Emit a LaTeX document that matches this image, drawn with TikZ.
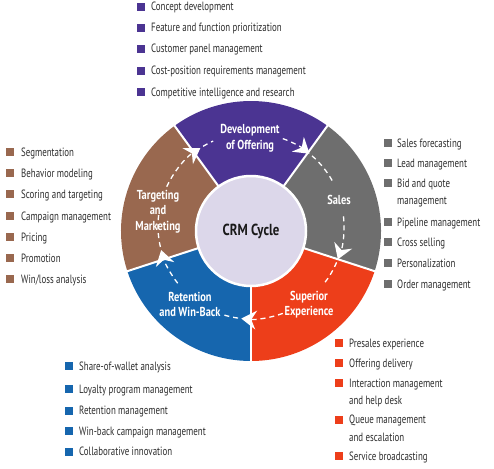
\documentclass[tikz,border=0pt]{standalone}
\usepackage{fontspec}
\setmainfont{PT Sans}
\newfontfamily\listfont[FakeStretch=0.74]{PT Sans}
\newfontfamily\labfont[FakeStretch=0.8]{PT Sans}
\usetikzlibrary{arrows.meta}
\definecolor{cpur}{RGB}{75,52,146}
\definecolor{cgray}{RGB}{110,110,110}
\definecolor{cred}{RGB}{237,62,26}
\definecolor{cblue}{RGB}{22,102,174}
\definecolor{cbrown}{RGB}{153,104,79}
\definecolor{clav}{RGB}{220,215,234}
\definecolor{ctxt}{RGB}{45,45,45}
\newcommand\twol[2]{\begin{tabular}[t]{@{}l@{}}#1\\[3pt]#2\end{tabular}}
\tikzset{
  item/.style={font=\listfont\fontsize{12}{14.5}\selectfont, text=ctxt, anchor=base west, inner sep=0},
  sq/.style={minimum size=8pt, inner sep=0, draw=none},
  seglab/.style={font=\labfont\bfseries\fontsize{13}{15.5}\selectfont, text=white, align=center, inner sep=0},
  flow/.style={white, line width=1.3pt, dash pattern=on 5pt off 4pt},
  tipd/.style={flow, -{Stealth[length=15pt,width=19pt,inset=5pt]}}
}
\begin{document}
\begin{tikzpicture}[x=1pt,y=1pt]
\useasboundingbox (0,0) rectangle (494,-468);
\coordinate (cen) at (251,-231);
\coordinate (dc) at (251,-226);
% ring segments
\fill[cpur] (cen) -- ++(54:130pt) arc[start angle=54,end angle=126,radius=130pt] -- cycle;
\fill[cgray] (cen) -- ++(-18:130pt) arc[start angle=-18,end angle=54,radius=130pt] -- cycle;
\fill[cred] (cen) -- ++(-90:130pt) arc[start angle=-90,end angle=-18,radius=130pt] -- cycle;
\fill[cblue] (cen) -- ++(198:130pt) arc[start angle=198,end angle=270,radius=130pt] -- cycle;
\fill[cbrown] (cen) -- ++(126:130pt) arc[start angle=126,end angle=198,radius=130pt] -- cycle;
\foreach \a in {-90,-18,54,126,198} \draw[white,line width=2pt] (cen) -- ++(\a:131pt);
\node[circle, minimum size=110pt, fill=clav, draw=white, line width=2.5pt, inner sep=0,
  font=\labfont\bfseries\fontsize{16}{19}\selectfont, text={black!90}] (crm) at (cen) {CRM Cycle};
% segment labels
\node[seglab] (ldev) at (250,-138.5) {Development\\of Offering};
\node[seglab] (lsal) at (339,-200) {Sales};
\node[seglab] (lsup) at (309,-304.5) {Superior\\Experience};
\node[seglab] (lret) at (190,-304.5) {Retention\\and Win-Back};
\node[seglab] (ltar) at (158,-211.5) {Targeting\\and\\Marketing};
% dashed cycle arrows
\draw[tipd] ([shift={(70:93pt)}]dc) arc[start angle=70,end angle=51,radius=93pt];
\draw[flow] ([shift={(49:93pt)}]dc) arc[start angle=49,end angle=28,radius=93pt];
\draw[tipd] ([shift={(6:93pt)}]dc) arc[start angle=6,end angle=-21,radius=93pt];
\draw[flow] ([shift={(-23:93pt)}]dc) arc[start angle=-23,end angle=-38,radius=93pt];
\draw[tipd] ([shift={(-70:93pt)}]dc) arc[start angle=-70,end angle=-96,radius=93pt];
\draw[flow] ([shift={(-98:93pt)}]dc) arc[start angle=-98,end angle=-108,radius=93pt];
\draw[tipd] ([shift={(218:93pt)}]dc) arc[start angle=218,end angle=195,radius=93pt];
\draw[flow] ([shift={(193:93pt)}]dc) arc[start angle=193,end angle=173,radius=93pt];
\draw[tipd] ([shift={(155:93pt)}]dc) arc[start angle=155,end angle=123,radius=93pt];
\draw[flow] ([shift={(121:93pt)}]dc) arc[start angle=121,end angle=114,radius=93pt];
% top list (purple)
\node[sq,fill=cpur] (ps1) at (141,-7) {};
\node[item] (pt1) at (151,-11) {Concept development};
\node[sq,fill=cpur] (ps2) at (141,-28) {};
\node[item] (pt2) at (151,-32) {Feature and function prioritization};
\node[sq,fill=cpur] (ps3) at (141,-49) {};
\node[item] (pt3) at (151,-53) {Customer panel management};
\node[sq,fill=cpur] (ps4) at (141,-71) {};
\node[item] (pt4) at (151,-75) {Cost-position requirements management};
\node[sq,fill=cpur] (ps5) at (141,-92) {};
\node[item] (pt5) at (151,-96) {Competitive intelligence and research};
% left list (brown)
\node[sq,fill=cbrown] (bs1) at (10,-152) {};
\node[item] (bt1) at (21,-156) {Segmentation};
\node[sq,fill=cbrown] (bs2) at (10,-173) {};
\node[item] (bt2) at (21,-177) {Behavior modeling};
\node[sq,fill=cbrown] (bs3) at (10,-194) {};
\node[item] (bt3) at (21,-198) {Scoring and targeting};
\node[sq,fill=cbrown] (bs4) at (10,-216) {};
\node[item] (bt4) at (21,-220) {Campaign management};
\node[sq,fill=cbrown] (bs5) at (10,-237) {};
\node[item] (bt5) at (21,-241) {Pricing};
\node[sq,fill=cbrown] (bs6) at (10,-258) {};
\node[item] (bt6) at (21,-262) {Promotion};
\node[sq,fill=cbrown] (bs7) at (10,-279) {};
\node[item] (bt7) at (21,-283) {Win/loss analysis};
% right list (gray)
\node[sq,fill=cgray] (gs1) at (387.5,-143) {};
\node[item] (gt1) at (397,-147) {Sales forecasting};
\node[sq,fill=cgray] (gs2) at (387.5,-163) {};
\node[item] (gt2) at (397,-167) {Lead management};
\node[sq,fill=cgray] (gs3) at (387.5,-183) {};
\node[item] (gt3) at (397,-187) {\twol{Bid and quote}{management}};
\node[sq,fill=cgray] (gs4) at (387.5,-222) {};
\node[item] (gt4) at (397,-226) {Pipeline management};
\node[sq,fill=cgray] (gs5) at (387.5,-242) {};
\node[item] (gt5) at (397,-246) {Cross selling};
\node[sq,fill=cgray] (gs6) at (387.5,-263) {};
\node[item] (gt6) at (397,-267) {Personalization};
\node[sq,fill=cgray] (gs7) at (387.5,-284) {};
\node[item] (gt7) at (397,-288) {Order management};
% bottom-left list (blue)
\node[sq,fill=cblue] (us1) at (68.5,-366) {};
\node[item] (ut1) at (79,-370) {Share-of-wallet analysis};
\node[sq,fill=cblue] (us2) at (68.5,-389) {};
\node[item] (ut2) at (79,-393) {Loyalty program management};
\node[sq,fill=cblue] (us3) at (68.5,-410.5) {};
\node[item] (ut3) at (79,-414.5) {Retention management};
\node[sq,fill=cblue] (us4) at (68.5,-431) {};
\node[item] (ut4) at (79,-435) {Win-back campaign management};
\node[sq,fill=cblue] (us5) at (68.5,-451.5) {};
\node[item] (ut5) at (79,-455.5) {Collaborative innovation};
% bottom-right list (red)
\node[sq,fill=cred] (rs1) at (339,-343) {};
\node[item] (rt1) at (349,-347) {Presales experience};
\node[sq,fill=cred] (rs2) at (339,-363) {};
\node[item] (rt2) at (349,-367) {Offering delivery};
\node[sq,fill=cred] (rs3) at (339,-383) {};
\node[item] (rt3) at (349,-387) {\twol{Interaction management}{and help desk}};
\node[sq,fill=cred] (rs4) at (339,-419.5) {};
\node[item] (rt4) at (349,-423.5) {\twol{Queue management}{and escalation}};
\node[sq,fill=cred] (rs5) at (339,-456) {};
\node[item] (rt5) at (349,-460) {Service broadcasting};
\end{tikzpicture}
\end{document}
